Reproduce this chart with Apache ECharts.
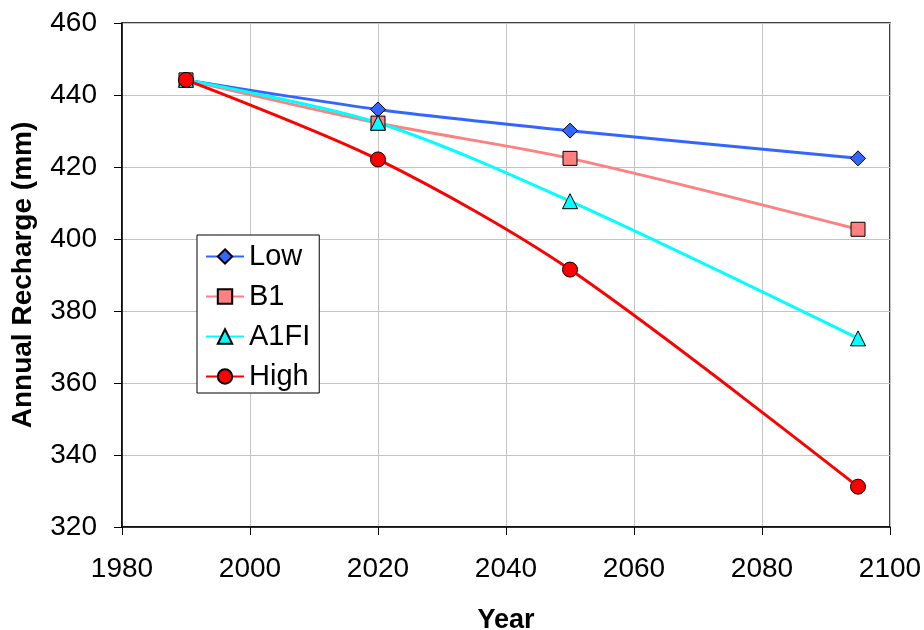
<!DOCTYPE html>
<html>
<head>
<meta charset="utf-8">
<script src="https://cdn.jsdelivr.net/npm/echarts@6/dist/echarts.min.js"></script>
<style>
  html, body { margin: 0; padding: 0; background: #fff; }
  #chart { width: 924px; height: 630px; }
</style>
</head>
<body>
<div id="chart"></div>
<script>
// Projected annual groundwater recharge (mm) under four climate scenarios
const years = [1990, 2020, 2050, 2095];
const lowValues  = [444.2, 436.0, 430.1, 422.4];
const b1Values   = [444.2, 432.2, 422.4, 402.7];
const a1fiValues = [444.2, 432.3, 410.5, 372.4];
const highValues = [444.2, 422.1, 391.5, 331.2];

const seriesNames = ['Low', 'B1', 'A1FI', 'High'];
const xTicks = [1980, 2000, 2020, 2040, 2060, 2080, 2100];
const yTicks = [320, 340, 360, 380, 400, 420, 440, 460];

const FONT = '"Liberation Sans", Arial, sans-serif';

function pairs(vals) {
  return years.map((y, i) => [y, vals[i]]);
}

function lineSeries(name, vals, color, symbol, size) {
  return {
    name: name,
    type: 'line',
    data: pairs(vals),
    smooth: 0.3,
    symbol: symbol,
    symbolSize: size,
    showAllSymbol: true,
    lineStyle: { color: color, width: 3 },
    itemStyle: { color: color, borderColor: '#000', borderWidth: 1 },
    emphasis: { disabled: true },
    z: 3
  };
}

const chart = echarts.init(document.getElementById('chart'), null, { renderer: 'canvas' });

chart.setOption({
  backgroundColor: '#ffffff',
  animation: false,
  grid: {
    left: 122, right: 34, top: 23, bottom: 103,
    outerBoundsMode: 'none',
    containLabel: false,
    show: true, borderColor: '#000', borderWidth: 1.5,
    backgroundColor: 'transparent'
  },
  xAxis: {
    type: 'value',
    min: xTicks[0], max: xTicks[xTicks.length - 1], interval: 20,
    name: 'Year',
    nameLocation: 'middle',
    nameGap: 80,
    nameTextStyle: { fontFamily: FONT, fontSize: 27, fontWeight: 'bold', color: '#000' },
    axisLine: { show: true, lineStyle: { color: '#000', width: 1.5 } },
    axisTick: { show: true, inside: false, length: 8, lineStyle: { color: '#000', width: 1 } },
    axisLabel: { fontFamily: FONT, fontSize: 28, color: '#000', margin: 28,
                 formatter: v => String(v), showMinLabel: true, showMaxLabel: true },
    splitLine: { show: true, lineStyle: { color: '#c4c4c4', width: 1 } }
  },
  yAxis: {
    type: 'value',
    min: yTicks[0], max: yTicks[yTicks.length - 1], interval: 20,
    name: 'Annual Recharge (mm)',
    nameLocation: 'middle',
    nameGap: 85,
    nameTextStyle: { fontFamily: FONT, fontSize: 28, fontWeight: 'bold', color: '#000' },
    axisLine: { show: true, lineStyle: { color: '#000', width: 1.5 } },
    axisTick: { show: true, inside: false, length: 8, lineStyle: { color: '#000', width: 1 } },
    axisLabel: { fontFamily: FONT, fontSize: 28, color: '#000', margin: 25,
                 showMinLabel: true, showMaxLabel: true },
    splitLine: { show: true, lineStyle: { color: '#c4c4c4', width: 1 } }
  },
  legend: {
    orient: 'vertical',
    left: 197, top: 235,
    data: seriesNames,
    backgroundColor: '#fff',
    borderColor: '#000', borderWidth: 1,
    padding: [7, 9, 2, 8],
    itemGap: 11,
    itemWidth: 38, itemHeight: 18,
    textStyle: { fontFamily: FONT, fontSize: 29, color: '#000', lineHeight: 28 },
    selectedMode: false
  },
  series: [
    lineSeries(seriesNames[0], lowValues, '#3366ff', 'diamond', 15),
    lineSeries(seriesNames[1], b1Values, '#ff8080', 'rect', 14),
    lineSeries(seriesNames[2], a1fiValues, '#00ffff', 'triangle', 15),
    lineSeries(seriesNames[3], highValues, '#ff0000', 'circle', 15)
  ]
});
</script>
</body>
</html>
